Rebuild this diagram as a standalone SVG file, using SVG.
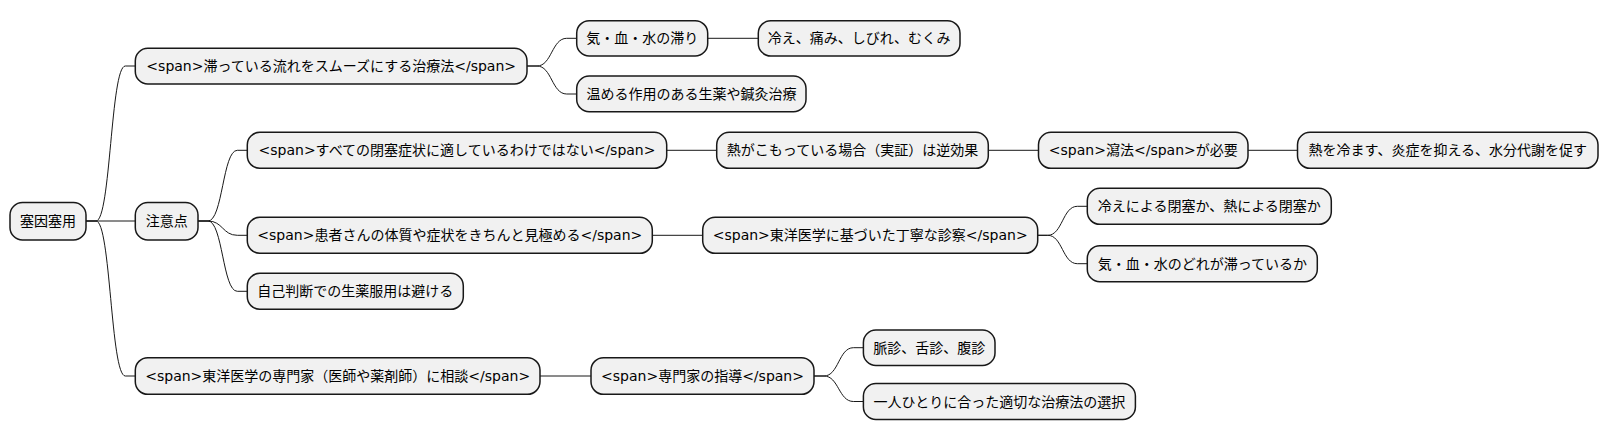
<svg xmlns="http://www.w3.org/2000/svg" width="1608" height="443" viewBox="0 0 1608 443">
<style>
.n rect{fill:#F1F1F1;stroke:#181818;stroke-width:1.5}
.n text{font-family:"DejaVu Sans","Noto Sans CJK JP",sans-serif;font-size:14px;fill:#000;text-anchor:middle}
.c path{fill:none;stroke:#181818;stroke-width:1}
</style>
<rect width="1608" height="443" fill="#FFFFFF"/>
<g class="c" id="connectors">
<path d="M86,221 H96 C110.7,221 110.7,66 125.3,66 H135.3"/>
<path d="M86,221 H135.3"/>
<path d="M86,221 H96 C110.7,221 110.7,376 125.3,376 H135.3"/>
<path d="M527,66 H537 C551.8,66 551.8,38.3 566.7,38.3 H576.7"/>
<path d="M527,66 H537 C551.8,66 551.8,94 566.7,94 H576.7"/>
<path d="M707.7,38.3 H758.3"/>
<path d="M198,221 H208 C222.7,221 222.7,150.3 237.3,150.3 H247.3"/>
<path d="M198,221 H208 C222.7,221 222.7,235.3 237.3,235.3 H247.3"/>
<path d="M198,221 H208 C222.7,221 222.7,291.3 237.3,291.3 H247.3"/>
<path d="M666.7,150.3 H716.7"/>
<path d="M988.3,150.3 H1038.5"/>
<path d="M1248,150.3 H1297.5"/>
<path d="M652.3,235.3 H702.7"/>
<path d="M1037.7,235.3 H1047.7 C1062.5,235.3 1062.5,206.3 1077.3,206.3 H1087.3"/>
<path d="M1037.7,235.3 H1047.7 C1062.5,235.3 1062.5,263.7 1077.3,263.7 H1087.3"/>
<path d="M540,376 H591"/>
<path d="M814,376 H824 C838.7,376 838.7,347.7 853.4,347.7 H863.4"/>
<path d="M814,376 H824 C838.7,376 838.7,401.5 853.4,401.5 H863.4"/>
</g>
<g class="n" id="root"><rect x="10" y="202.5" width="76" height="37.5" rx="12.5"/><text x="48" y="226">塞因塞用</text></g>
<g class="n" id="a"><rect x="135.3" y="48.3" width="391.7" height="35.7" rx="12.5"/><text x="331.2" y="71">&lt;span&gt;滞っている流れをスムーズにする治療法&lt;/span&gt;</text></g>
<g class="n" id="a1"><rect x="576.7" y="20.7" width="131" height="35.3" rx="12.5"/><text x="642.2" y="43.3">気・血・水の滞り</text></g>
<g class="n" id="a1a"><rect x="758.3" y="20.7" width="201.7" height="35.3" rx="12.5"/><text x="859.2" y="43.3">冷え、痛み、しびれ、むくみ</text></g>
<g class="n" id="a2"><rect x="576.7" y="76" width="229.3" height="35.7" rx="12.5"/><text x="691.4" y="99">温める作用のある生薬や鍼灸治療</text></g>
<g class="n" id="b"><rect x="135.3" y="202.5" width="62.7" height="37.5" rx="12.5"/><text x="166.7" y="226">注意点</text></g>
<g class="n" id="b1"><rect x="247.3" y="132.3" width="419.4" height="36" rx="12.5"/><text x="457" y="155.3">&lt;span&gt;すべての閉塞症状に適しているわけではない&lt;/span&gt;</text></g>
<g class="n" id="b1a"><rect x="716.7" y="132.3" width="271.6" height="36" rx="12.5"/><text x="852.5" y="155.3">熱がこもっている場合（実証）は逆効果</text></g>
<g class="n" id="b1b"><rect x="1038.5" y="132.3" width="209.5" height="36" rx="12.5"/><text x="1143.3" y="155.3">&lt;span&gt;瀉法&lt;/span&gt;が必要</text></g>
<g class="n" id="b1c"><rect x="1297.5" y="132.3" width="300.5" height="36" rx="12.5"/><text x="1447.8" y="155.3">熱を冷ます、炎症を抑える、水分代謝を促す</text></g>
<g class="n" id="b2"><rect x="247.3" y="217.3" width="405" height="36" rx="12.5"/><text x="449.8" y="240.3">&lt;span&gt;患者さんの体質や症状をきちんと見極める&lt;/span&gt;</text></g>
<g class="n" id="b2a"><rect x="702.7" y="217.3" width="335" height="36" rx="12.5"/><text x="870.2" y="240.3">&lt;span&gt;東洋医学に基づいた丁寧な診察&lt;/span&gt;</text></g>
<g class="n" id="b2a1"><rect x="1087.3" y="188.3" width="244" height="36" rx="12.5"/><text x="1209.3" y="211.3">冷えによる閉塞か、熱による閉塞か</text></g>
<g class="n" id="b2a2"><rect x="1087.3" y="245.7" width="230" height="36" rx="12.5"/><text x="1202.3" y="268.7">気・血・水のどれが滞っているか</text></g>
<g class="n" id="b3"><rect x="247.3" y="273.3" width="216" height="36" rx="12.5"/><text x="355.3" y="296.3">自己判断での生薬服用は避ける</text></g>
<g class="n" id="c"><rect x="135.3" y="357.7" width="404.7" height="36.6" rx="12.5"/><text x="337.7" y="381">&lt;span&gt;東洋医学の専門家（医師や薬剤師）に相談&lt;/span&gt;</text></g>
<g class="n" id="c1"><rect x="591" y="357.7" width="223" height="36.6" rx="12.5"/><text x="702.5" y="381">&lt;span&gt;専門家の指導&lt;/span&gt;</text></g>
<g class="n" id="c1a"><rect x="863.4" y="330" width="131.6" height="35.5" rx="12.5"/><text x="929.2" y="352.7">脈診、舌診、腹診</text></g>
<g class="n" id="c1b"><rect x="863.4" y="383.5" width="272" height="36" rx="12.5"/><text x="999.4" y="406.5">一人ひとりに合った適切な治療法の選択</text></g>
</svg>
